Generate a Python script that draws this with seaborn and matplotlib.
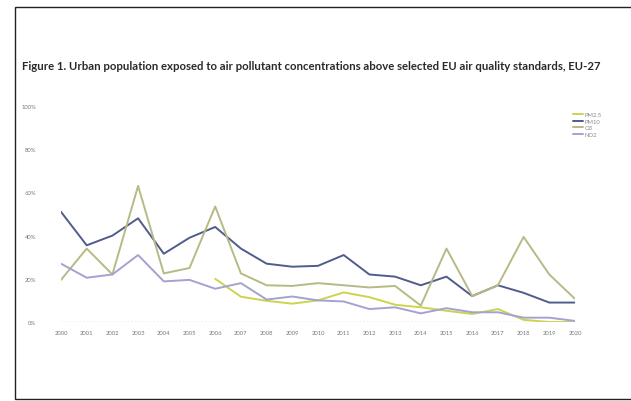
import matplotlib
matplotlib.use("Agg")
import matplotlib.pyplot as plt
import pandas as pd
import seaborn as sns
from matplotlib.patches import Rectangle

## data (% of urban population)
years = list(range(2000, 2021))
pm25 = [None, None, None, None, None, None, 20, 11.7, 9.8, 8.5, 10, 13.7, 11.5, 8, 6.8, 5.2, 3.7, 6, 1, 0, 0]
pm10 = [51, 35.5, 40, 48, 31.6, 39, 44, 34, 27, 25.6, 26, 31, 22, 21, 17, 21, 12, 17, 13.5, 9, 9]
o3 = [19.5, 34, 22, 63, 22.5, 25, 53.5, 22.5, 17, 16.7, 18, 17, 16, 16.7, 7.6, 34, 12, 17, 39.4, 22, 10.7]
no2 = [27, 20.5, 22, 31, 18.8, 19.5, 15.4, 18, 10.4, 11.8, 10, 9.5, 6, 6.8, 4, 6.4, 4.5, 4.5, 2, 2, 0.5]
series_names = ['PM2.5', 'PM10', 'O3', 'NO2']
y_ticks = [0, 20, 40, 60, 80, 100]

colors = {'PM2.5': '#cdd44c', 'PM10': '#4f5c8c', 'O3': '#b7ba84', 'NO2': '#a3a2d2'}

##long form table
df = pd.DataFrame({'Year': years, 'PM2.5': pm25, 'PM10': pm10, 'O3': o3, 'NO2': no2})
long_df = df.melt(id_vars='Year', var_name='Pollutant', value_name='Share').dropna()

sns.set_style('white')
plt.rcParams['font.family'] = ['Lato', 'DejaVu Sans']

fig = plt.figure(figsize=(6.31, 4.02), dpi=100)
ax = fig.add_axes([61/631, 1-323/402, 514/631, 216/402])

sns.lineplot(data=long_df, x='Year', y='Share', hue='Pollutant', hue_order=series_names,
             palette=colors, linewidth=1.4, ax=ax, legend=True)

ax.axhline(0, color='#aeb3c8', linestyle=':', linewidth=1.0, zorder=0)
ax.set_xlim(2000, 2020)
ax.set_ylim(0, 100)
ax.set_xticks(years)
ax.set_xticklabels([str(y) for y in years], fontsize=4.2, color='#777')
ax.set_yticks(y_ticks)
ax.set_yticklabels([f'{t}%' for t in y_ticks], fontsize=4.2, color='#777')
ax.tick_params(axis='y', length=0, pad=18)
ax.tick_params(axis='x', length=0, pad=6)
ax.set_xlabel('')
ax.set_ylabel('')
for s in ax.spines.values():
    s.set_visible(False)
ax.patch.set_alpha(0)

leg = ax.legend(loc='upper left', bbox_to_anchor=(568/631, 1-108/402), bbox_transform=fig.transFigure,
                frameon=False, fontsize=4.2, handlelength=1.6, labelspacing=0.25, handletextpad=0.4)
for t in leg.get_texts():
    t.set_color('#888')

# title
fig.text(22/631, 1-67/402,
         'Figure 1. Urban population exposed to air pollutant concentrations above selected EU air quality standards, EU-27',
         fontsize=8.2, fontweight='bold', color='#2a2a2a', va='center', ha='left')

# scan frame
fig.patches.append(Rectangle((15/631, 1-400/402), 620/631, 392/402, transform=fig.transFigure,
                             fill=False, edgecolor='#222', linewidth=1.0))

fig.savefig('out.png', dpi=100)
